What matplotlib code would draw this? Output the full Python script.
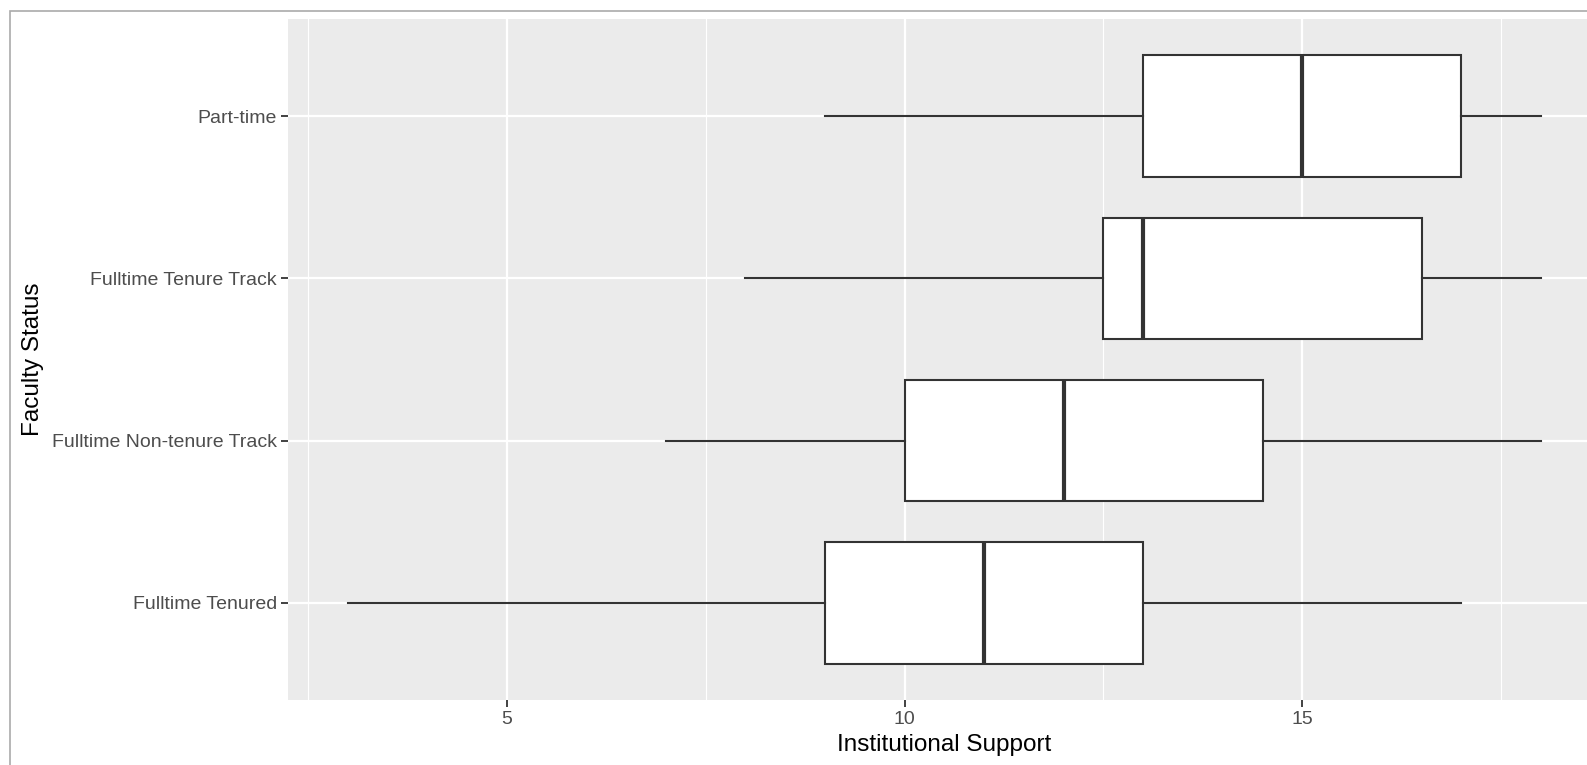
import matplotlib
matplotlib.use("Agg")
import matplotlib.pyplot as plt
from matplotlib.patches import Rectangle

plt.rcParams["font.family"] = ["Liberation Sans", "DejaVu Sans"]

# Data (bottom to top)
statuses = ["Fulltime Tenured", "Fulltime Non-tenure Track",
            "Fulltime Tenure Track", "Part-time"]
whisker_lo = [3, 7, 8, 9]
q1 = [9, 10, 12.5, 13]
median = [11, 12, 13, 15]
q3 = [13, 14.5, 16.5, 17]
whisker_hi = [17, 18, 18, 18]

stats = []
for i, name in enumerate(statuses):
    stats.append({"label": name, "whislo": whisker_lo[i], "q1": q1[i],
                  "med": median[i], "q3": q3[i], "whishi": whisker_hi[i],
                  "fliers": []})

W, H = 1587, 765
fig = plt.figure(figsize=(W / 100, H / 100), dpi=100)

# panel runs a bit past the right edge of the picture
x0, x1 = 2.25, 18.75
px_per_unit = 79.56
left_px, top_px, bottom_px = 288, 19, 700
right_px = 506.7 + (x1 - 5) * px_per_unit
ax = fig.add_axes([left_px / W, (H - bottom_px) / H,
                   (right_px - left_px) / W, (bottom_px - top_px) / H])
ax.set_facecolor("#EBEBEB")

edge = "#333333"
ax.bxp(stats, orientation="horizontal", widths=0.75, showcaps=False,
       patch_artist=True,
       boxprops=dict(facecolor="white", edgecolor=edge, linewidth=1.5),
       whiskerprops=dict(color=edge, linewidth=1.5),
       medianprops=dict(color=edge, linewidth=3),
       zorder=3)

ax.set_xlim(x0, x1)
ax.set_ylim(0.4, 4.6)
ax.set_xticks([5, 10, 15])
ax.set_xticks([2.5, 7.5, 12.5, 17.5], minor=True)
ax.set_yticks([1, 2, 3, 4])
ax.set_yticklabels(statuses)

ax.grid(True, which="major", color="white", linewidth=1.6, zorder=0)
ax.grid(True, which="minor", axis="x", color="white", linewidth=0.8, zorder=0)
ax.set_axisbelow(True)
for s in ax.spines.values():
    s.set_visible(False)

ax.tick_params(axis="both", which="major", length=5, width=1.3,
               color="#333333", labelcolor="#4D4D4D", labelsize=14, pad=3)
ax.tick_params(axis="both", which="minor", length=0)

ax.set_xlabel("Institutional Support", fontsize=17.5, color="black", labelpad=4)
ax.set_ylabel("Faculty Status", fontsize=17.5, color="black", labelpad=6)

# thin frame around the screenshot
fig.add_artist(Rectangle((10 / W, -0.1), 1.2, (H - 11) / H + 0.1,
                         transform=fig.transFigure, fill=False,
                         edgecolor="#AAAAAA", linewidth=1.2))

fig.savefig("out.png", dpi=100)
